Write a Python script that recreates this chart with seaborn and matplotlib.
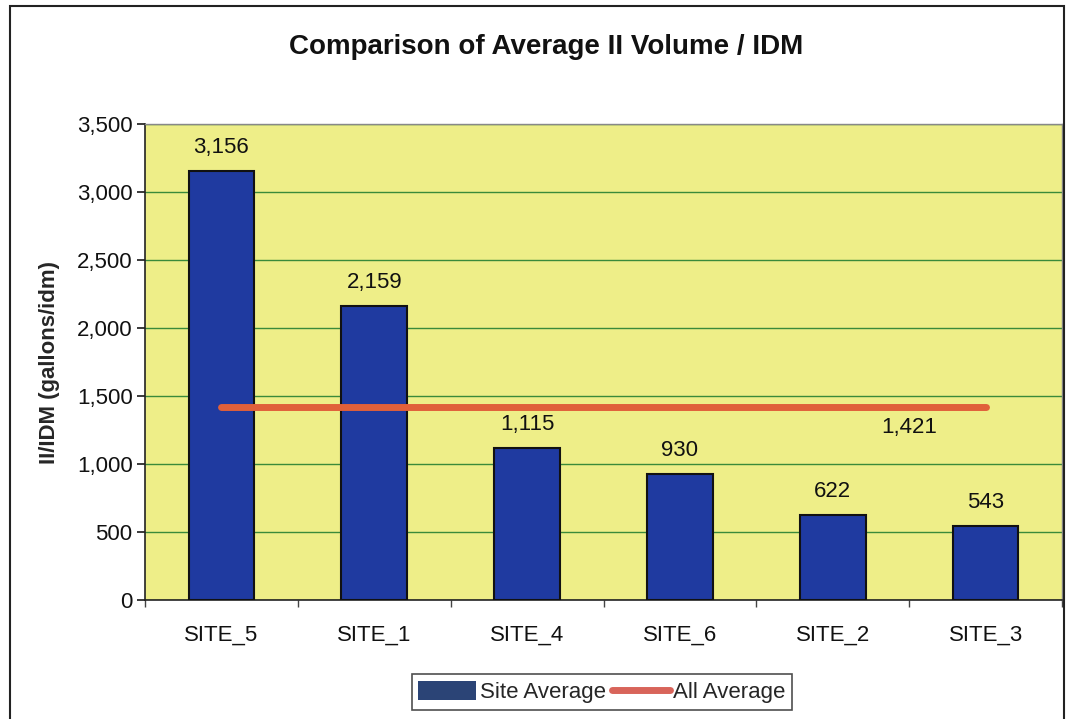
import matplotlib
matplotlib.use("Agg")
import matplotlib.pyplot as plt
from matplotlib.patches import Rectangle, Patch
from matplotlib.lines import Line2D
from matplotlib.ticker import FuncFormatter, MultipleLocator, FixedLocator
import seaborn as sns
import pandas as pd

sites = ["SITE_5", "SITE_1", "SITE_4", "SITE_6", "SITE_2", "SITE_3"]
site_average = [3156, 2159, 1115, 930, 622, 543]
all_average = 1421

sns.set_theme(style="white")
plt.rcParams["font.family"] = ["Liberation Sans", "DejaVu Sans"]

df = pd.DataFrame({"site": sites, "value": site_average})

fig = plt.figure(figsize=(10.68, 7.19), dpi=100)
ax = fig.add_axes([0.1358, 0.1655, 0.8586, 0.662])
ax.set_facecolor("#eeee88")

sns.barplot(data=df, x="site", y="value", color="#1f3aa0", width=0.43,
            edgecolor="#111111", linewidth=1.5, saturation=1, ax=ax, zorder=3)

xs = list(range(len(sites)))
ax.plot(xs, [all_average] * len(sites), color="#e0603a", linewidth=5,
        solid_capstyle="round", zorder=4)

for x, v in zip(xs, site_average):
    ax.text(x, v + 95, f"{v:,}", ha="center", va="bottom", fontsize=16, color="#111111")
ax.text(4.5, all_average - 75, f"{all_average:,}", ha="center", va="top",
        fontsize=16, color="#111111")

ax.set_ylim(0, 3500)
ax.set_xlim(-0.5, len(sites) - 0.5)
ax.yaxis.set_major_locator(MultipleLocator(500))
ax.yaxis.set_major_formatter(FuncFormatter(lambda v, p: f"{int(v):,}"))
ax.xaxis.set_minor_locator(FixedLocator([i + 0.5 for i in range(-1, len(sites))]))
ax.grid(axis="y", color="#3a8a3a", linewidth=1.0, zorder=0)
ax.set_axisbelow(True)

for side in ["top", "right"]:
    ax.spines[side].set_color("#888888")
    ax.spines[side].set_linewidth(1.0)
for side in ["left", "bottom"]:
    ax.spines[side].set_color("#222222")
    ax.spines[side].set_linewidth(1.2)

ax.tick_params(axis="y", labelsize=16, length=6, direction="out", left=True,
               color="#222222", pad=3)
ax.tick_params(axis="x", which="major", labelsize=16, length=0, pad=18)
ax.tick_params(axis="x", which="minor", length=5, direction="out", bottom=True,
               color="#444444", width=1.0)
ax.set_xlabel("")
ax.set_ylabel("II/IDM (gallons/idm)", fontsize=16, fontweight="bold", labelpad=12)
for lbl in ax.get_xticklabels() + ax.get_yticklabels():
    lbl.set_color("#111111")

fig.text(0.511, 0.934, "Comparison of Average II Volume / IDM", ha="center",
         va="center", fontsize=20, fontweight="bold", color="#111111")

handles = [Patch(facecolor="#2b4476", edgecolor="none"),
           Line2D([0], [0], color="#d8645a", linewidth=5, solid_capstyle="round")]
leg = fig.legend(handles, ["Site Average", "All Average"], loc="center",
                 bbox_to_anchor=(0.5637, 0.0375), ncol=2, fontsize=16,
                 frameon=True, fancybox=False, handlelength=2.6, handleheight=0.9,
                 handletextpad=0.15, columnspacing=0.3, borderpad=0.3)
leg.get_frame().set_edgecolor("#222222")
leg.get_frame().set_linewidth(1.2)

fig.patches.append(Rectangle((0.009, -0.01), 0.987, 1.002, transform=fig.transFigure,
                             fill=False, edgecolor="#222222", linewidth=1.5))

fig.savefig("out.png", dpi=100, facecolor="white")
